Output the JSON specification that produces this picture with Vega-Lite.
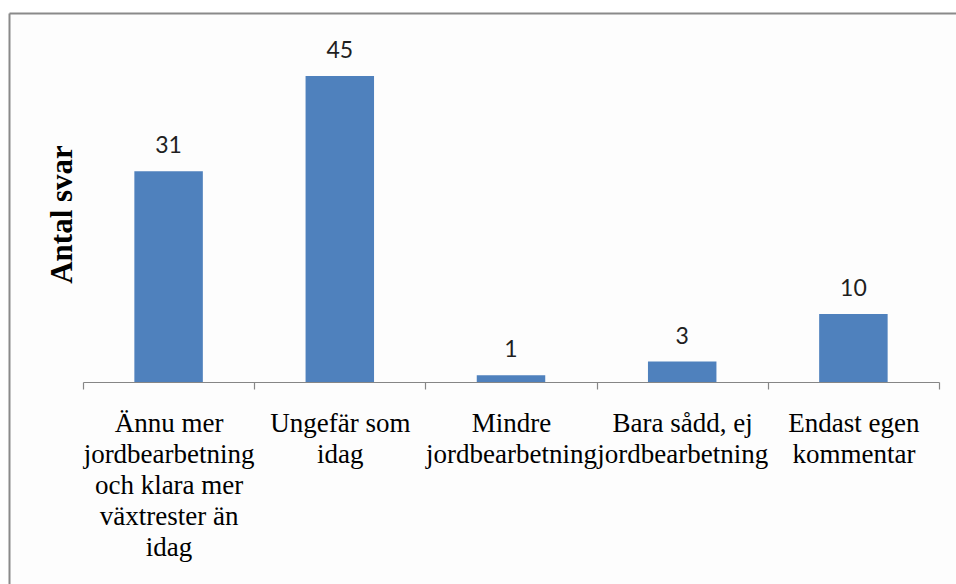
{
  "$schema": "https://vega.github.io/schema/vega-lite/v6.json",
  "autosize": {"type": "none"},
  "padding": {"left": 9, "top": 13, "right": 0, "bottom": 0},
  "width": 947,
  "height": 571,
  "background": "#ffffff",
  "config": {
    "view": {"stroke": null, "fill": "#fdfdfd"}
  },
  "data": {
    "values": [
      {"kategori": "Ännu mer|jordbearbetning|och klara mer|växtrester än|idag", "antal": 31},
      {"kategori": "Ungefär som|idag", "antal": 45},
      {"kategori": "Mindre|jordbearbetning", "antal": 1},
      {"kategori": "Bara sådd, ej|jordbearbetning", "antal": 3},
      {"kategori": "Endast egen|kommentar", "antal": 10}
    ]
  },
  "layer": [
    {
      "encoding": {
        "x": {
          "field": "kategori",
          "type": "nominal",
          "sort": null,
          "scale": {"range": [74, 930], "paddingInner": 0, "paddingOuter": 0},
          "axis": {
            "title": null,
            "orient": "bottom",
            "offset": -202,
            "tickBand": "extent",
            "domainColor": "#868686",
            "domainWidth": 1.2,
            "tickColor": "#868686",
            "tickWidth": 1.2,
            "tickSize": 7,
            "labelAngle": 0,
            "labelAlign": "center",
            "labelBaseline": "top",
            "labelPadding": 21,
            "labelFont": "Liberation Serif",
            "labelFontSize": 27,
            "labelLineHeight": 31,
            "labelColor": "#000000",
            "labelLimit": 0,
            "labelOverlap": false,
            "labelBound": false,
            "labelExpr": "split(datum.label, '|')"
          }
        },
        "y": {
          "field": "antal",
          "type": "quantitative",
          "scale": {"domain": [0, 45], "range": [369, 63], "nice": false},
          "axis": null
        }
      },
      "layer": [
        {
          "mark": {"type": "bar", "width": {"band": 0.4}, "color": "#4f81bd"}
        },
        {
          "mark": {
            "type": "text",
            "baseline": "alphabetic",
            "align": "center",
            "dy": -18,
            "font": "Lato",
            "fontSize": 23,
            "color": "#1f1f1f"
          },
          "encoding": {"text": {"field": "antal", "type": "quantitative"}}
        }
      ]
    },
    {
      "mark": {"type": "point", "opacity": 0},
      "encoding": {
        "x": {
          "field": "kategori",
          "type": "nominal",
          "sort": null,
          "axis": {
            "orient": "top",
            "title": null,
            "ticks": false,
            "labels": false,
            "grid": false,
            "domainColor": "#8a8a8a",
            "domainWidth": 2
          }
        },
        "y": {
          "field": "antal",
          "type": "quantitative",
          "axis": {
            "orient": "left",
            "title": "Antal svar",
            "ticks": false,
            "labels": false,
            "grid": false,
            "domainColor": "#8a8a8a",
            "domainWidth": 2,
            "titleFont": "Liberation Serif",
            "titleFontWeight": "bold",
            "titleFontSize": 31,
            "titleColor": "#000000",
            "titleAngle": -90,
            "titleAlign": "center",
            "titleBaseline": "middle",
            "titleX": 53,
            "titleY": 201
          }
        }
      }
    }
  ],
  "resolve": {
    "scale": {"x": "independent", "y": "independent"},
    "axis": {"x": "independent", "y": "independent"}
  }
}
